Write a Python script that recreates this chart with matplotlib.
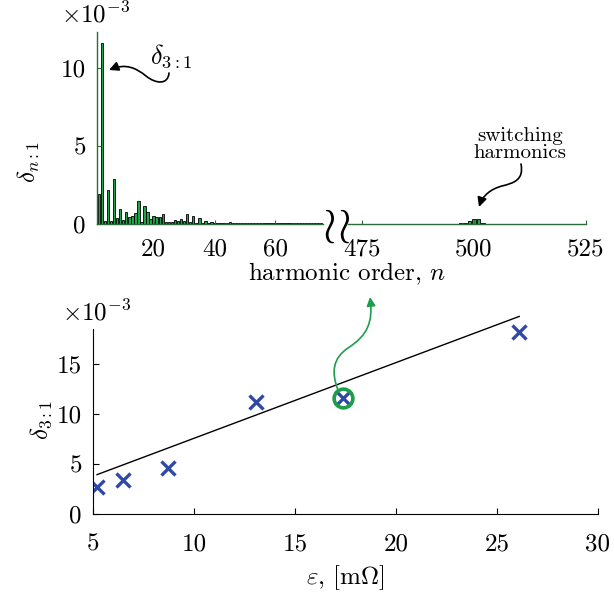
import matplotlib
matplotlib.use("Agg")
import matplotlib.pyplot as plt
from matplotlib.path import Path
from matplotlib.patches import FancyArrowPatch

plt.rcParams["font.family"] = "serif"
plt.rcParams["font.serif"] = ["cmr10"]
plt.rcParams["mathtext.fontset"] = "cm"
plt.rcParams["axes.unicode_minus"] = False
plt.rcParams["axes.formatter.use_mathtext"] = True

# ---- data -------------------------------------------------------------
# relative harmonic content delta_{n:1} (x 1e-3), low orders n = 2..75
low_orders = list(range(2, 76))
low_delta = [1.94, 11.6, 0.20, 2.15, 0.20, 2.90, 0.39, 0.97, 0.25, 0.80,
             0.47, 0.54, 0.71, 1.50, 0.15, 1.14, 0.80, 0.32, 0.49, 0.47,
             0.43, 0.65, 0.15, 0.10, 0.12, 0.26, 0.19, 0.30, 0.19, 0.65,
             0.15, 0.54, 0.06, 0.39, 0.05, 0.22, 0.05, 0.15, 0.06, 0.08,
             0.04, 0.05, 0.04, 0.12, 0.04, 0.07, 0.04, 0.05, 0.04, 0.09,
             0.04, 0.08, 0.04, 0.05, 0.04, 0.08, 0.04, 0.05, 0.04, 0.06,
             0.08, 0.04, 0.05, 0.04, 0.06, 0.07, 0.04, 0.05, 0.04, 0.08,
             0.04, 0.07, 0.04, 0.05]

# harmonic content around the switching frequency, n = 472..525
high_orders = list(range(472, 526))
high_delta = [0.015, 0.015, 0.015, 0.015, 0.015, 0.015, 0.015, 0.015, 0.015, 0.015,
              0.015, 0.015, 0.015, 0.015, 0.015, 0.015, 0.015, 0.015, 0.015, 0.015,
              0.015, 0.015, 0.015, 0.015, 0.02, 0.05, 0.06, 0.20, 0.32, 0.32,
              0.04, 0.03, 0.02, 0.015, 0.015, 0.015, 0.015, 0.015, 0.015, 0.015,
              0.015, 0.015, 0.015, 0.015, 0.015, 0.015, 0.015, 0.015, 0.015, 0.015,
              0.015, 0.015, 0.015, 0.015]

# third-harmonic content vs. epsilon
eps = [5.2, 6.5, 8.7, 13.07, 17.4, 26.1]
delta31 = [2.75, 3.4, 4.6, 11.2, 11.6, 18.2]
fit_slope = 0.757          # linear trend, delta_{3:1} (x 1e-3) per mOhm
fit_range = [5.2, 26.1]
highlight = 4              # case whose spectrum is shown above

# ---- styling ----------------------------------------------------------
W, H = 614, 595
FS = 18
bar_green = "#22a348"
axis_green = "#2b6b3a"
mark_blue = "#3049a6"
arrow_green = "#1e9e4c"


def fp(x, y):
    """pixel position (from top-left) -> figure fraction"""
    return (x / W, 1 - y / H)


fig = plt.figure(figsize=(W / 100, H / 100), dpi=100)

ax_lo = fig.add_axes([97 / W, 1 - 224 / H, 226 / W, 192 / H])
ax_hi = fig.add_axes([348 / W, 1 - 224 / H, 238 / W, 192 / H])
ax_b = fig.add_axes([93 / W, 1 - 514 / H, 505 / W, 200 / H])

# spectrum bars
for ax, n, d in ((ax_lo, low_orders, low_delta), (ax_hi, high_orders, high_delta)):
    ax.bar(n, d, width=0.8, color=bar_green, edgecolor="black", linewidth=0.6)
    ax.set_ylim(0, 12.31)
    for s in ("top", "right"):
        ax.spines[s].set_visible(False)
    for s in ("left", "bottom"):
        ax.spines[s].set_color(axis_green)
        ax.spines[s].set_linewidth(1.0)
    ax.tick_params(direction="in", length=3, width=0.8, color=axis_green,
                   labelsize=FS, pad=8)
    ax.tick_params(axis="x", pad=10)

ax_lo.set_xlim(1.4, 75.6)
ax_lo.set_xticks([20, 40, 60], ["20", "40", "60"])
ax_lo.set_yticks([0, 5, 10], ["0", "5", "10"])

ax_hi.set_xlim(471.9, 525)
ax_hi.set_xticks([475, 500, 525], ["475", "500", "525"])
ax_hi.set_yticks([])
ax_hi.spines["left"].set_visible(False)
ax_hi.patch.set_alpha(0)

# axis break marks
fig.text(*fp(336, 239), r"$\wr\!\wr$", fontsize=36, ha="center", va="baseline")

fig.text(*fp(347, 280), r"harmonic order, $n$", fontsize=FS, ha="center", va="baseline")
fig.text(*fp(29, 162), r"$\delta_{n:1}$", fontsize=FS, ha="center", va="center", rotation=90)
fig.text(*fp(61, 22), r"$\times10^{-3}$", fontsize=FS, ha="left", va="baseline")

# annotations on the spectrum
fig.text(*fp(150, 64), r"$\delta_{3:1}$", fontsize=19, ha="left", va="baseline")
fig.text(*fp(520, 141), "switching", fontsize=15, ha="center", va="baseline")
fig.text(*fp(520, 158), "harmonics", fontsize=15, ha="center", va="baseline")


def curvy_arrow(points, color, lw=1.2, head=14):
    verts = [fp(*p) for p in points]
    codes = [Path.MOVETO] + [Path.CURVE4] * (len(verts) - 1)
    arr = FancyArrowPatch(path=Path(verts, codes), arrowstyle="-|>",
                          mutation_scale=head, color=color, lw=lw,
                          transform=fig.transFigure)
    fig.patches.append(arr)


curvy_arrow([(169, 73), (168, 85), (156, 84), (146, 76),
             (136, 68), (126, 63), (109, 70)], "black")
curvy_arrow([(521, 164), (524, 180), (514, 183), (502, 186),
             (491, 189), (483, 195), (479, 207)], "black")

# epsilon dependence
ax_b.plot(eps, delta31, linestyle="none", marker="x", markersize=10,
          markeredgewidth=2.4, color=mark_blue)
ax_b.plot(fit_range, [fit_slope * e for e in fit_range], color="black", lw=1.0)
ax_b.plot([eps[highlight]], [delta31[highlight]], marker="o", markersize=13.5,
          markerfacecolor="none", markeredgecolor=arrow_green, markeredgewidth=2.6)
ax_b.set_xlim(5, 30)
ax_b.set_ylim(0, 20)
ax_b.set_xticks([5, 10, 15, 20, 25, 30], ["5", "10", "15", "20", "25", "30"])
ax_b.set_yticks([0, 5, 10, 15], ["0", "5", "10", "15"])
for s in ("top", "right"):
    ax_b.spines[s].set_visible(False)
ax_b.spines["left"].set_bounds(0, 18.5)
ax_b.tick_params(direction="in", length=4, width=0.8, labelsize=FS, pad=8)
ax_b.tick_params(axis="x", pad=14)
ax_b.patch.set_alpha(0)

fig.text(*fp(62, 320), r"$\times10^{-3}$", fontsize=FS, ha="left", va="baseline")
fig.text(*fp(41, 420), r"$\delta_{3:1}$", fontsize=FS, ha="center", va="center", rotation=90)
fig.text(*fp(345, 584), r"$\varepsilon$, [m$\Omega$]", fontsize=FS, ha="center", va="baseline")

curvy_arrow([(338, 390), (331, 372), (333, 358), (348, 348),
             (368, 335), (373, 322), (370, 297)], arrow_green, lw=1.2, head=13)

fig.savefig("out.png", dpi=100)
